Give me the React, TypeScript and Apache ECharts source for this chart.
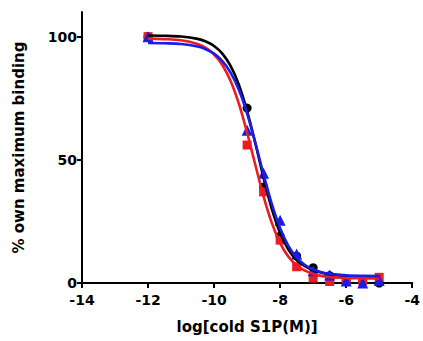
import React, { useEffect, useRef } from "react";
import * as echarts from "echarts";

// Measured data points (log concentration, % binding)
const pointX = [-12, -9, -8.5, -8, -7.5, -7, -6.5, -6, -5.5, -5];
const blackPoints = [100, 71, 39, 19, 11, 6.2, 3, 1, 0.5, 0];
const redPoints = [100, 56, 37, 17.4, 6.6, 2, 0.6, 1, 1, 2.3];
const bluePoints = [100, 62, 44.5, 25.5, 11.8, 5, 3.2, 0.8, 0, 1];

// Fitted curves
const curveX = [-12, -11.5, -11, -10.5, -10.25, -10, -9.75, -9.5, -9.25, -9, -8.75, -8.5, -8.25, -8, -7.75, -7.5, -7.25, -7, -6.75, -6.5, -6, -5.5, -5];
const blackCurve = [100.45, 100.36, 100.05, 99.1, 98.0, 96.2, 93.1, 88.1, 80.5, 69.8, 56.6, 42.6, 30.0, 20.3, 13.6, 9.3, 6.8, 5.2, 4.2, 3.5, 2.8, 2.6, 2.5];
const redCurve = [99.2, 99.0, 98.5, 97.0, 95.4, 92.7, 88.5, 82.0, 72.8, 61.0, 47.9, 35.1, 24.3, 16.2, 10.7, 7.2, 5.0, 3.7, 2.9, 2.4, 2.0, 1.9, 1.85];
const blueCurve = [97.4, 97.3, 97.0, 96.0, 94.9, 93.1, 90.1, 85.4, 78.4, 68.8, 56.9, 44.0, 32.0, 22.2, 15.1, 10.3, 7.3, 5.5, 4.4, 3.7, 3.1, 2.9, 2.85];

const xTicks = [-14, -12, -10, -8, -6, -4];
const yTicks = [0, 50, 100];

const BLACK = "#000000";
const RED = "#ec1c24";
const BLUE = "#1c1ce6";
const FONT = "DejaVu Sans";

const pairs = (xs: number[], ys: number[]) => xs.map((x, i) => [x, ys[i]]);

export default function App() {
  const ref = useRef<HTMLDivElement>(null);
  useEffect(() => {
    if (!ref.current) return;
    const chart = echarts.init(ref.current, undefined, { renderer: "svg" });
    const lineSeries = (data: number[], color: string) => ({
      type: "line",
      data: pairs(curveX, data),
      showSymbol: false,
      symbol: "none",
      smooth: 0.35,
      lineStyle: { color, width: 2.6 },
      silent: true,
    });
    const scatterSeries = (data: number[], color: string, symbol: string, size: number) => ({
      type: "scatter",
      data: pairs(pointX, data),
      symbol,
      symbolSize: size,
      itemStyle: { color, opacity: 1 },
      silent: true,
    });
    chart.setOption({
      animation: false,
      grid: { left: 82, right: 1, top: 12, bottom: 58, containLabel: false },
      xAxis: {
        type: "value",
        min: -14,
        max: -4,
        interval: 2,
        name: "log[cold S1P(M)]",
        nameLocation: "middle",
        nameGap: 36,
        nameTextStyle: { fontFamily: FONT, fontWeight: "bold", fontSize: 15, color: "#000" },
        axisLine: { show: true, onZero: false, lineStyle: { color: BLACK, width: 2 } },
        axisTick: { show: true, length: 5, lineStyle: { color: BLACK, width: 2 }, customValues: xTicks },
        axisLabel: {
          fontFamily: FONT,
          fontWeight: "bold",
          fontSize: 14,
          color: "#000",
          margin: 10,
          customValues: xTicks,
          alignMaxLabel: "center",
          alignMinLabel: "center",
        },
        splitLine: { show: false },
      },
      yAxis: {
        type: "value",
        min: 0,
        max: 110,
        name: "% own maximum binding",
        nameLocation: "middle",
        nameGap: 56,
        nameTextStyle: { fontFamily: FONT, fontWeight: "bold", fontSize: 15, color: "#000" },
        axisLine: { show: true, onZero: false, lineStyle: { color: BLACK, width: 2 } },
        axisTick: { show: true, length: 5, lineStyle: { color: BLACK, width: 2 }, customValues: yTicks },
        axisLabel: {
          fontFamily: FONT,
          fontWeight: "bold",
          fontSize: 14,
          color: "#000",
          margin: 5,
          customValues: yTicks,
        },
        splitLine: { show: false },
      },
      series: [
        lineSeries(blackCurve, BLACK),
        lineSeries(redCurve, RED),
        lineSeries(blueCurve, BLUE),
        scatterSeries(blackPoints, BLACK, "circle", 9),
        scatterSeries(redPoints, RED, "rect", 9),
        scatterSeries(bluePoints, BLUE, "triangle", 11),
      ],
    });
    return () => chart.dispose();
  }, []);
  return (
    <div
      ref={ref}
      style={{ position: "fixed", left: 0, top: 0, width: 423, height: 341, background: "#fff" }}
    />
  );
}
